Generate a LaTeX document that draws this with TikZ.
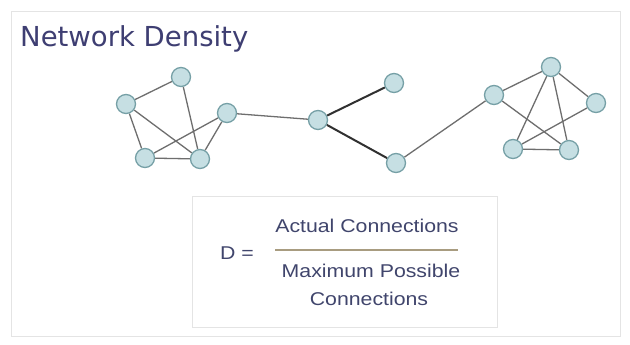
\documentclass[tikz,border=0pt]{standalone}
\usepackage{fontspec}
\usetikzlibrary{backgrounds}
\setmainfont{Liberation Sans}
\newfontfamily\titlefont{DejaVu Sans}
\newfontfamily\formfont[FakeStretch=1.15]{Liberation Sans}
\definecolor{titleblue}{HTML}{3E3E72}
\definecolor{textblue}{HTML}{40456C}
\definecolor{nodefill}{HTML}{C6DFE3}
\definecolor{nodeline}{HTML}{76A0A6}
\definecolor{edgegray}{HTML}{6E6E6E}
\definecolor{edgedark}{HTML}{303030}
\definecolor{framegray}{HTML}{E4E4E4}
\definecolor{barcol}{HTML}{A89C80}
\tikzset{
  vertex/.style={circle, fill=nodefill, draw=nodeline, line width=1.3pt,
    minimum size=19pt, inner sep=0pt},
  link/.style={draw=edgegray, line width=1.3pt},
  strong/.style={draw=edgedark, line width=2pt},
  formtext/.style={font=\formfont\fontsize{18.5}{28}\selectfont, text=textblue,
    inner sep=0pt, anchor=base},
}
\begin{document}
\begin{tikzpicture}[x=1pt,y=-1pt]
\useasboundingbox (0,0) rectangle (630,345);

% heading
\node[font=\titlefont\fontsize{27.5}{32}\selectfont, text=titleblue, anchor=base west,
  inner sep=0pt] (title) at (20,47) {Network Density};

% left cluster
\node[vertex] (a) at (181,77) {};
\node[vertex] (b) at (126,104) {};
\node[vertex] (c) at (227,113) {};
\node[vertex] (d) at (145,158) {};
\node[vertex] (e) at (200,159) {};
% bridge nodes
\node[vertex] (f) at (318,120) {};
\node[vertex] (g) at (394,83) {};
\node[vertex] (h) at (396,163) {};
% right cluster
\node[vertex] (i) at (494,95) {};
\node[vertex] (j) at (551,67) {};
\node[vertex] (k) at (596,103) {};
\node[vertex] (l) at (513,149) {};
\node[vertex] (m) at (569,150) {};

% formula
\node[formtext, anchor=base west] (dlabel) at (220,259) {D =};
\node[formtext] (num) at (367,232) {Actual Connections};
\node[formtext] (den1) at (371,277) {Maximum Possible};
\node[formtext] (den2) at (369,305) {Connections};
\draw[barcol, line width=1.3pt] (275,250) -- (458,250);

\begin{scope}[on background layer]
  \fill[white] (0,0) rectangle (630,345);
  \draw[framegray, line width=1pt] (11,12) rectangle (620,336);
  \draw[framegray, line width=1pt] (192,196) rectangle (497,327);
  % edges, kept beneath the vertices
  \foreach \u/\v in {a/b, a/e, b/d, b/e, c/d, c/e, d/e, c/f, h/i,
                     i/j, i/m, j/k, j/l, j/m, k/l, l/m}
    \path[link] (\u) -- (\v);
  \path[strong] (f) -- (g);
  \path[strong] (f) -- (h);
\end{scope}
\end{tikzpicture}
\end{document}
